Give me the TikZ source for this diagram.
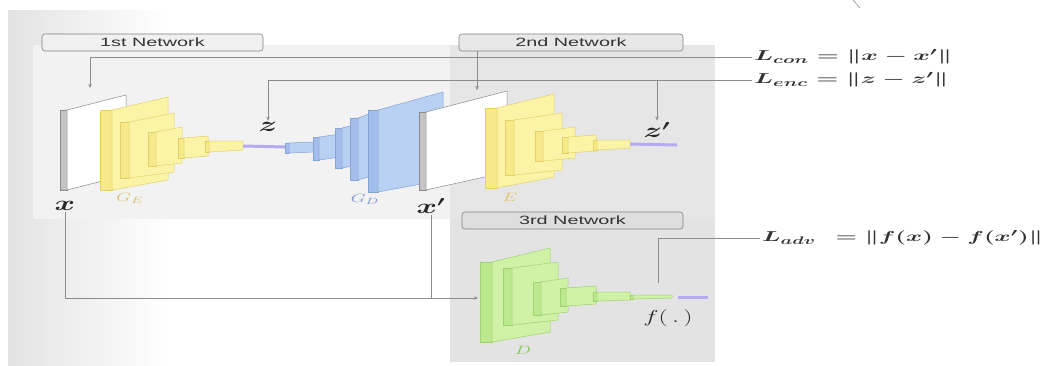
\documentclass[tikz,border=0pt]{standalone}
\usepackage{fontspec}
\setmainfont{Liberation Sans}
\usepackage{graphicx}
\usetikzlibrary{arrows.meta}
\definecolor{yface}{HTML}{FBF3A6}
\definecolor{yside}{HTML}{F5E98A}
\definecolor{yedge}{HTML}{E3D06A}
\definecolor{bface}{HTML}{B8D0F2}
\definecolor{bside}{HTML}{A3BEEA}
\definecolor{bedge}{HTML}{86A3D4}
\definecolor{gface}{HTML}{CFF2A6}
\definecolor{gside}{HTML}{BDE98E}
\definecolor{gedge}{HTML}{9FD270}
\definecolor{wface}{HTML}{FFFFFF}
\definecolor{wside}{HTML}{C4C4C4}
\definecolor{wedge}{HTML}{8A8A8A}
\definecolor{purp}{HTML}{B9A9F2}
\definecolor{panelA}{HTML}{F2F2F2}
\definecolor{panelB}{HTML}{E6E6E6}
\definecolor{panelC}{HTML}{E3E3E3}
\definecolor{labY}{HTML}{D9C466}
\definecolor{labB}{HTML}{7F98CC}
\definecolor{labG}{HTML}{86C45A}
\newcommand\wx[2]{\scalebox{#1}[1]{#2}}
% l w r tl bl tr br colour-prefix
\newcommand\cnnslab[8]{%
  \filldraw[fill=#8side, draw=#8edge, line width=0.5pt] (#1,#4) -- (#1+#2,#4) -- (#1+#2,#5) -- (#1,#5) -- cycle;
  \filldraw[fill=#8face, draw=#8edge, line width=0.5pt] (#1+#2,#4) -- (#3,#6) -- (#3,#7) -- (#1+#2,#5) -- cycle;
}
\begin{document}
\begin{tikzpicture}[x=1pt,y=-1pt,
  conn/.style={draw=black!45, line width=0.8pt},
  tip/.style={-{Stealth[length=4pt,width=3.5pt]}},
  netlab/.style={draw=black!50, rounded corners=3pt, line width=0.6pt, inner sep=0pt,
     minimum height=17pt, font=\fontsize{12}{14}\selectfont, text=black!80},
  mlab/.style={inner sep=1.5pt, font=\fontsize{20}{22}\selectfont, text=black!85},
  glab/.style={inner sep=1pt, font=\fontsize{13}{15}\selectfont},
  loss/.style={anchor=west, inner sep=2pt, font=\fontsize{15}{17}\selectfont, text=black!80},
  bar/.style={draw=purp, line width=3pt}]
\useasboundingbox (0,0) rectangle (1053,365);
% background
\shade[left color=black!11, right color=white] (8,10) rectangle (170,365);
\fill[panelA] (33,45) rectangle (450,219);
\fill[panelB] (450,45) rectangle (715,219);
\fill[panelC] (450,219) rectangle (715,362);
\draw[conn, line width=0.6pt] (853,0) -- (860,8);
% network labels
\node[netlab, fill=black!6, minimum width=221pt] (net1) at (152.5,42.5) {\wx{1.65}{1st Network}};
\node[netlab, fill=black!9, minimum width=224pt] (net2) at (571,42.5) {\wx{1.65}{2nd Network}};
\node[netlab, fill=black!13, minimum width=221pt] (net3) at (572.5,220.5) {\wx{1.65}{3rd Network}};
% loss formulas
\node[loss] (lcon) at (752,57) {\wx{1.75}{\boldmath$L_{con} = \Vert x - x'\Vert$}};
\node[loss] (lenc) at (752,80) {\wx{1.75}{\boldmath$L_{enc} = \Vert z - z'\Vert$}};
\node[loss] (ladv) at (760,238) {\wx{1.7}{\boldmath$L_{adv}\ \,= \Vert f(x) - f(x')\Vert$}};
% math labels
\node[mlab] (lx) at (65,206) {\wx{1.5}{\boldmath$x$}};
\node[mlab] (lxp) at (431,206) {\wx{1.5}{\boldmath$x'$}};
\node[mlab] (lz) at (268,127) {\wx{1.5}{\boldmath$z$}};
\node[mlab] (lzp) at (657,130) {\wx{1.5}{\boldmath$z'$}};
\node[mlab, font=\fontsize{19}{21}\selectfont] (lf) at (668,318) {\wx{1.5}{$f(\,.\,)$}};
\node[glab, text=labY] (lge) at (130,198) {\wx{1.6}{$G_E$}};
\node[glab, text=labB] (lgd) at (365,199) {\wx{1.6}{$G_D$}};
\node[glab, text=labY] (le) at (510,197) {\wx{1.6}{$E$}};
\node[glab, text=labG] (ld) at (523,350) {\wx{1.6}{$D$}};
% coordinates for connector ends
\coordinate (ximg) at (90,88);
\coordinate (xpimg) at (477,90);
\coordinate (dtip) at (478,298);
\coordinate (fout) at (658,283);
% connectors
\draw[conn, tip] (lcon.west) -| (ximg);
\draw[conn, tip] (xpimg |- net2.south) -- (xpimg);
\draw[conn, tip] (lenc.west) -| (lz.north);
\draw[conn, tip] (lzp.north |- lenc.west) -- (lzp.north);
\draw[conn] (ladv.west) -| (fout);
\draw[conn, tip] (lx.south) |- (dtip);
\draw[conn] (lxp.south) -- (lxp.south |- dtip);
% input image x
\cnnslab{60}{7}{126}{110}{190}{95}{175}{w}
% encoder G_E
\cnnslab{100}{12}{168}{110}{190}{97}{180}{y}
\cnnslab{120}{9}{174}{122}{178}{113}{172}{y}
\cnnslab{148}{8}{182}{132}{166}{127}{163}{y}
\cnnslab{178}{6}{208}{138}{158}{136}{156}{y}
\cnnslab{205}{4}{243}{141}{152}{141}{150}{y}
\draw[bar] (243,146) -- (285,147);
% decoder G_D
\cnnslab{285}{4}{315}{143}{153}{142}{152}{b}
\cnnslab{313}{6}{340}{137}{160}{134}{157}{b}
\cnnslab{335}{7}{358}{128}{168}{124}{165}{b}
\cnnslab{350}{8}{372}{118}{180}{113}{176}{b}
\cnnslab{368}{10}{443}{110}{192}{92}{180}{b}
% reconstructed image x'
\cnnslab{419}{7}{507}{112}{190}{91}{172}{w}
% encoder E
\cnnslab{485}{12}{554}{108}{188}{94}{177}{y}
\cnnslab{505}{9}{562}{120}{175}{113}{170}{y}
\cnnslab{535}{8}{575}{131}{161}{127}{158}{y}
\cnnslab{562}{6}{596}{137}{153}{135}{151}{y}
\cnnslab{593}{4}{630}{140}{150}{140}{148}{y}
\draw[bar] (630,144) -- (677,145);
% discriminator D
\cnnslab{480}{12}{550}{262}{342}{248}{332}{g}
\cnnslab{503}{9}{558}{268}{325}{262}{320}{g}
\cnnslab{533}{8}{568}{282}{315}{278}{312}{g}
\cnnslab{560}{6}{596}{288}{306}{286}{304}{g}
\cnnslab{593}{4}{630}{292}{301}{292}{300}{g}
\cnnslab{630}{3}{672}{295}{299}{295}{298}{g}
\draw[bar] (678,297) -- (708,297);
\end{tikzpicture}
\end{document}
